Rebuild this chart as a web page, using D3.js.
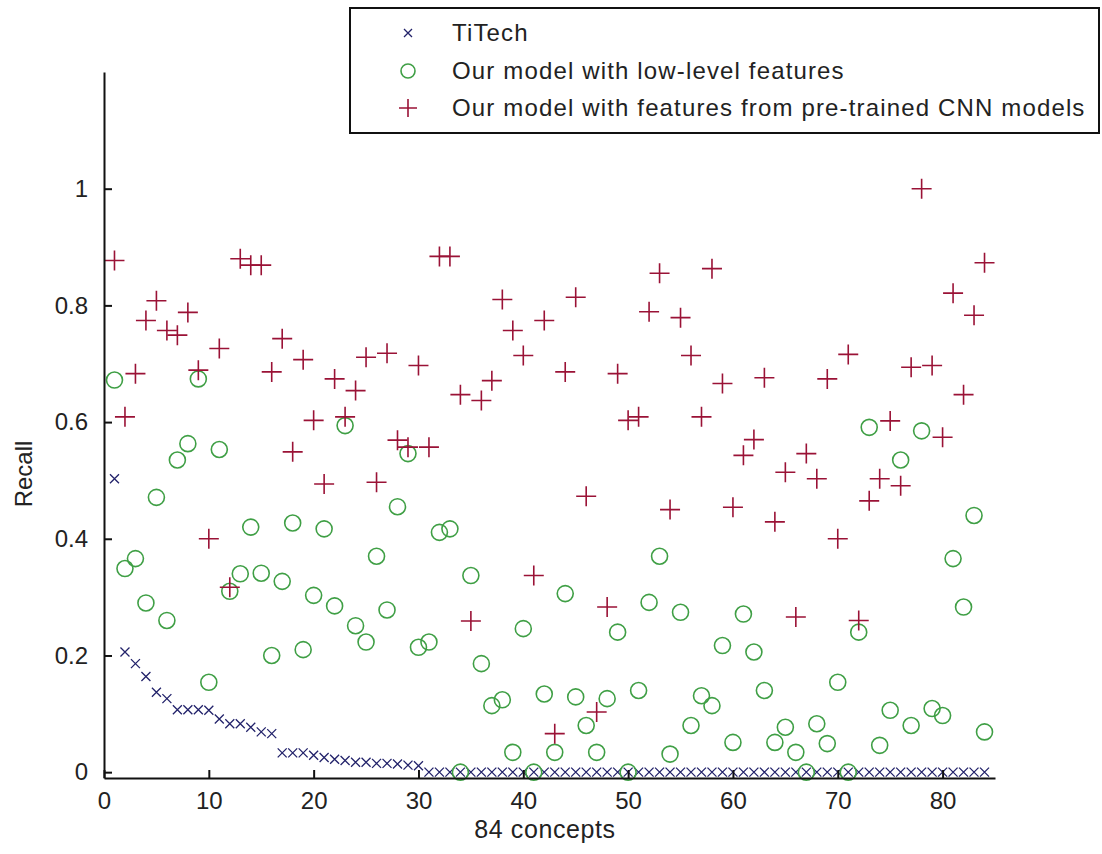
<!DOCTYPE html>
<html>
<head>
<meta charset="utf-8">
<script src="https://cdn.jsdelivr.net/npm/d3@7"></script>
<style>
  body { margin: 0; background: #fff; }
  text { font-family: "Liberation Sans", Arial, sans-serif; fill: #222; }
</style>
</head>
<body>
<script>
// Recall per concept (concept index 1..84)
var titech = [0.503, 0.206, 0.186, 0.164, 0.137, 0.126, 0.107, 0.107, 0.107, 0.106,
  0.091, 0.083, 0.083, 0.077, 0.069, 0.066, 0.033, 0.033, 0.033, 0.029,
  0.025, 0.022, 0.020, 0.017, 0.017, 0.015, 0.015, 0.014, 0.012, 0.011,
  0, 0, 0, 0, 0, 0, 0, 0, 0, 0, 0, 0, 0, 0, 0, 0, 0, 0, 0, 0,
  0, 0, 0, 0, 0, 0, 0, 0, 0, 0, 0, 0, 0, 0, 0, 0, 0, 0, 0, 0,
  0, 0, 0, 0, 0, 0, 0, 0, 0, 0, 0, 0, 0, 0];

var lowLevel = [0.672, 0.349, 0.366, 0.290, 0.471, 0.260, 0.535, 0.563, 0.674, 0.154,
  0.553, 0.310, 0.340, 0.420, 0.341, 0.200, 0.327, 0.427, 0.210, 0.303,
  0.417, 0.285, 0.594, 0.251, 0.223, 0.370, 0.278, 0.455, 0.546, 0.214,
  0.223, 0.411, 0.417, 0, 0.337, 0.186, 0.114, 0.124, 0.034, 0.246,
  0, 0.134, 0.034, 0.306, 0.129, 0.080, 0.034, 0.126, 0.240, 0,
  0.140, 0.291, 0.370, 0.031, 0.274, 0.080, 0.131, 0.114, 0.217, 0.051,
  0.271, 0.206, 0.140, 0.051, 0.077, 0.034, 0, 0.083, 0.049, 0.154,
  0, 0.240, 0.591, 0.046, 0.106, 0.535, 0.080, 0.585, 0.109, 0.097,
  0.366, 0.283, 0.440, 0.069];

var cnnFeatures = [0.877, 0.609, 0.683, 0.774, 0.808, 0.757, 0.749, 0.788, 0.689, 0.400,
  0.726, 0.317, 0.880, 0.869, 0.869, 0.686, 0.743, 0.549, 0.707, 0.603,
  0.494, 0.674, 0.609, 0.654, 0.711, 0.497, 0.718, 0.569, 0.557, 0.697,
  0.557, 0.884, 0.884, 0.647, 0.259, 0.637, 0.671, 0.810, 0.757, 0.714,
  0.337, 0.774, 0.066, 0.686, 0.814, 0.473, 0.103, 0.283, 0.683, 0.603,
  0.609, 0.789, 0.855, 0.450, 0.779, 0.714, 0.609, 0.863, 0.666, 0.454,
  0.543, 0.570, 0.676, 0.429, 0.514, 0.266, 0.546, 0.503, 0.674, 0.400,
  0.716, 0.260, 0.465, 0.503, 0.602, 0.491, 0.694, 1.000, 0.697, 0.574,
  0.821, 0.647, 0.783, 0.873];

var seriesNames = ["TiTech", "Our model with low-level features",
  "Our model with features from pre-trained CNN models"];
var xTicks = [0, 10, 20, 30, 40, 50, 60, 70, 80];
var yTicks = [0, 0.2, 0.4, 0.6, 0.8, 1];

var width = 1102, height = 854;
var margin = { top: 72, right: 107, bottom: 76, left: 104 };

var svg = d3.select("body").append("svg")
    .attr("width", width)
    .attr("height", height);

var x = d3.scaleLinear().domain([0, 85]).range([margin.left, width - margin.right]);
var y = d3.scaleLinear().domain([-0.01, 1.2]).range([height - margin.bottom, margin.top]);

var colTitech = "#22226a", colLow = "#3f9f45", colCnn = "#9a1236";

// marker drawing helpers
function drawCross(g, cx, cy, s) {
  g.append("path")
    .attr("d", "M" + (cx - s) + "," + (cy - s) + "L" + (cx + s) + "," + (cy + s) +
               "M" + (cx - s) + "," + (cy + s) + "L" + (cx + s) + "," + (cy - s))
    .attr("stroke", colTitech).attr("stroke-width", 1.3).attr("fill", "none");
}
function drawCircle(g, cx, cy, r) {
  g.append("circle")
    .attr("cx", cx).attr("cy", cy).attr("r", r)
    .attr("stroke", colLow).attr("stroke-width", 1.6).attr("fill", "none");
}
function drawPlus(g, cx, cy, s) {
  g.append("path")
    .attr("d", "M" + (cx - s) + "," + cy + "L" + (cx + s) + "," + cy +
               "M" + cx + "," + (cy - s) + "L" + cx + "," + (cy + s))
    .attr("stroke", colCnn).attr("stroke-width", 1.6).attr("fill", "none");
}

var marks = svg.append("g");

// TiTech crosses
titech.forEach(function(v, i) { drawCross(marks, x(i + 1), y(v), 4.5); });
// low-level feature circles
lowLevel.forEach(function(v, i) { drawCircle(marks, x(i + 1), y(v), 8); });
// CNN feature pluses
cnnFeatures.forEach(function(v, i) { drawPlus(marks, x(i + 1), y(v), 10); });

// axes (matlab style: ticks pointing inward)
var xAxis = svg.append("g")
    .attr("transform", "translate(0," + y(-0.01) + ")")
    .call(d3.axisBottom(x).tickValues(xTicks).tickSize(-8).tickPadding(14).tickSizeOuter(0)
      .tickFormat(d3.format("d")));
var yAxis = svg.append("g")
    .attr("transform", "translate(" + x(0) + ",0)")
    .call(d3.axisLeft(y).tickValues(yTicks).tickSize(-8).tickPadding(16).tickSizeOuter(0)
      .tickFormat(function(d) { return d === 0 || d === 1 ? d : d3.format(".1f")(d); }));

svg.selectAll(".domain").attr("stroke", "#111").attr("stroke-width", 2);
svg.selectAll(".tick line").attr("stroke", "#111").attr("stroke-width", 2);
svg.selectAll(".tick text").style("font-size", "24px").attr("fill", "#222")
    .style("font-family", "'Liberation Sans', Arial, sans-serif");
xAxis.selectAll(".tick text").attr("dy", "0.71em");

// axis labels
svg.append("text")
    .attr("x", 545)
    .attr("y", 838)
    .attr("text-anchor", "middle")
    .style("font-size", "25px")
    .style("letter-spacing", "0.6px")
    .text("84 concepts");

svg.append("text")
    .attr("transform", "translate(32," + 474 + ") rotate(-90)")
    .attr("text-anchor", "middle")
    .style("font-size", "24px")
    .text("Recall");

// legend
var legend = svg.append("g");
legend.append("rect")
    .attr("x", 350).attr("y", 8)
    .attr("width", 749).attr("height", 125)
    .attr("fill", "#fff").attr("stroke", "#111").attr("stroke-width", 2);

var rowY = [33, 71, 108];
drawCross(legend, 408, rowY[0], 4);
drawCircle(legend, 408, rowY[1], 7);
drawPlus(legend, 408, rowY[2], 9);

legend.selectAll(".legend-label")
    .data(seriesNames)
    .enter().append("text")
    .attr("class", "legend-label")
    .attr("x", 452)
    .attr("y", function(d, i) { return rowY[i]; })
    .attr("dy", "0.35em")
    .style("font-size", "24px")
    .style("letter-spacing", "1.15px")
    .text(function(d) { return d; });
</script>
</body>
</html>
